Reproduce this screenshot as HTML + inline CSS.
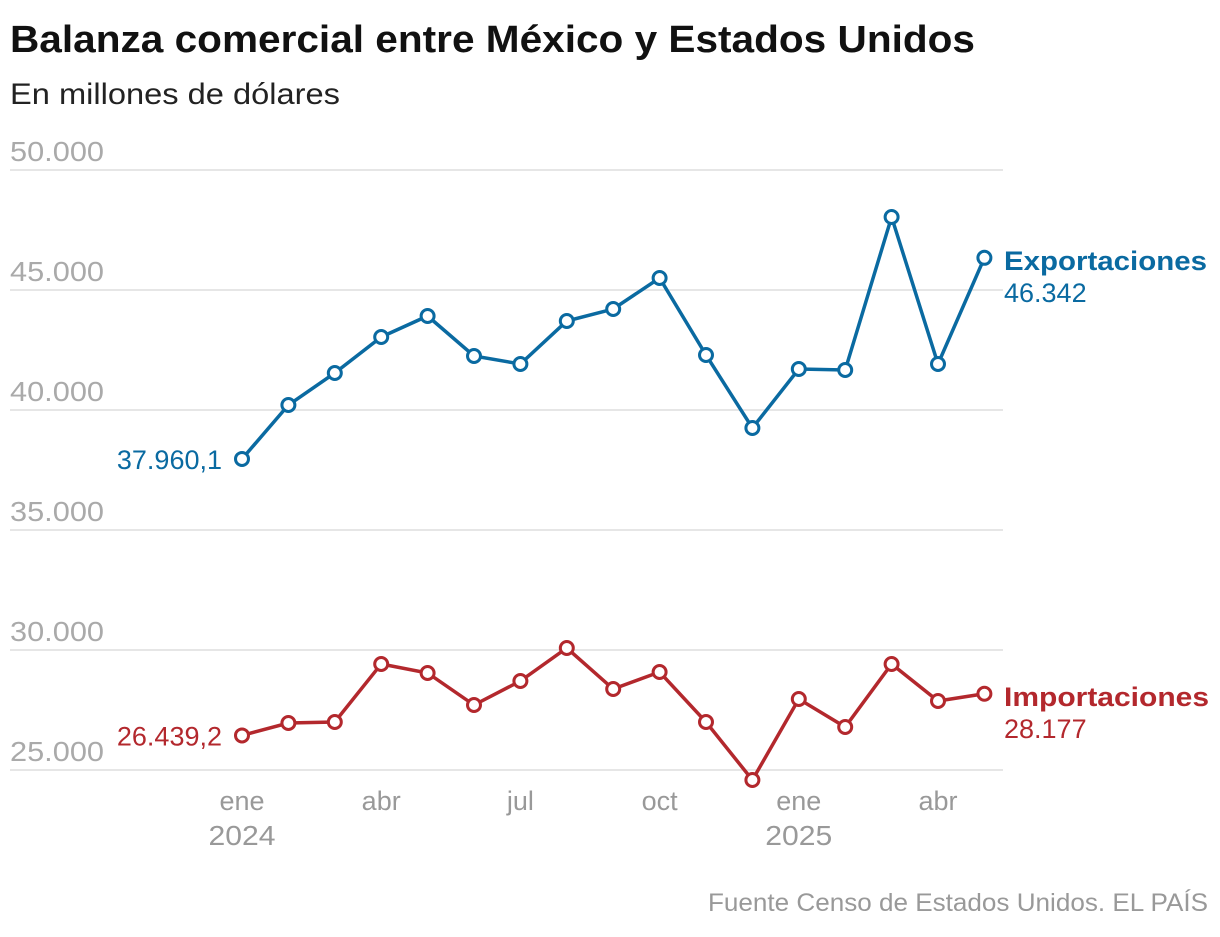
<!DOCTYPE html>
<html><head><meta charset="utf-8"><style>
body{margin:0;background:#fff;width:1220px;height:932px;overflow:hidden;font-family:"Liberation Sans",sans-serif}
</style></head><body>
<svg width="1220" height="932" id="c">
<text x="10" y="52" font-size="38" font-weight="bold" fill="#111" textLength="965" lengthAdjust="spacingAndGlyphs">Balanza comercial entre México y Estados Unidos</text>
<text x="10" y="104" font-size="30" fill="#222" textLength="330" lengthAdjust="spacingAndGlyphs">En millones de dólares</text>
<text x="1208" y="911" font-size="25" fill="#999" text-anchor="end" textLength="500" lengthAdjust="spacingAndGlyphs">Fuente Censo de Estados Unidos. EL PAÍS</text>
</svg>
<script>
const yTicks=[25000,30000,35000,40000,45000,50000];
const yTickLabels=["25.000","30.000","35.000","40.000","45.000","50.000"];
const xTickMonths=[0,3,6,9,12,15];
const xTickLabels=["ene","abr","jul","oct","ene","abr"];
const yearLabels=[[0,"2024"],[12,"2025"]];
const exportaciones=[37960.1,40208,41542,43042,43917,42250,41917,43708,44208,45500,42292,39250,41708,41667,48042,41917,46342];
const importaciones=[26439.2,26958,27000,29417,29042,27708,28708,30083,28375,29083,27000,24583,27958,26792,29417,27875,28177];
const svg=document.getElementById('c');const NS="http://www.w3.org/2000/svg";
const X=i=>242+i*46.4;const Y=v=>770-(v-25000)*0.024;
function mk(t,a,txt){const e=document.createElementNS(NS,t);for(const k in a)e.setAttribute(k,a[k]);if(txt!=null)e.textContent=txt;svg.appendChild(e);return e;}
yTicks.forEach((v,i)=>{
 const l=mk('line',{x1:10,x2:1003,y1:Y(v),y2:Y(v),stroke:'#ddd','stroke-width':1.5});
 
 
 const t=mk('text',{x:10,y:Y(v)-9,'font-size':28,fill:'#aaa',textLength:94,lengthAdjust:'spacingAndGlyphs'},yTickLabels[i]);
 
 
});
xTickMonths.forEach((m,i)=>{
 const t=mk('text',{x:X(m),y:810,'font-size':27,fill:'#999','text-anchor':'middle'},xTickLabels[i]);
 
 
});
yearLabels.forEach(([m,y])=>{
 const t=mk('text',{x:X(m),y:845,'font-size':28,fill:'#999','text-anchor':'middle',textLength:67,lengthAdjust:'spacingAndGlyphs'},y);
 
 
});
function series(data,color,name,label,startLbl,endLbl,lw){
 const p=mk('polyline',{points:data.map((v,i)=>X(i)+','+Y(v)).join(' '),fill:'none',stroke:color,'stroke-width':3.5});
 
 
 data.forEach((v,i)=>{const c=mk('circle',{cx:X(i),cy:Y(v),r:6.5,fill:'#fff',stroke:color,'stroke-width':3});
  
  });
 const n=data.length-1;
 const s=mk('text',{x:X(0)-20,y:Y(data[0])+10,'font-size':27,fill:color,'text-anchor':'end'},startLbl);
 
 
 const a=mk('text',{x:1004,y:Y(data[n])+12,'font-size':27,'font-weight':'bold',fill:color,textLength:lw,lengthAdjust:'spacingAndGlyphs'},label);
 
 
 const b=mk('text',{x:1004,y:Y(data[n])+44,'font-size':27,fill:color},endLbl);
 
 
}
const fmt=v=>v.toLocaleString('de-DE',{maximumFractionDigits:1});
series(exportaciones,'#0a6aa1','exports','Exportaciones',fmt(exportaciones[0]),fmt(exportaciones[exportaciones.length-1]),203);
series(importaciones,'#b3282d','imports','Importaciones',fmt(importaciones[0]),fmt(importaciones[importaciones.length-1]),205);
</script>
</body></html>
